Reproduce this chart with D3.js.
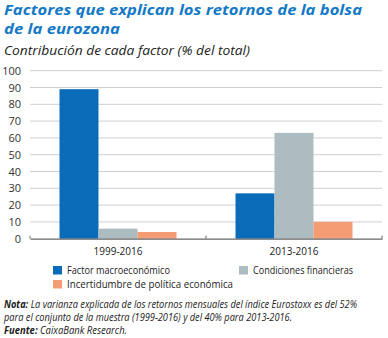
<!DOCTYPE html>
<html>
<head>
<meta charset="utf-8">
<script src="https://cdn.jsdelivr.net/npm/d3@7"></script>
<style>
  html, body { margin: 0; padding: 0; background: #fff; }
  svg { display: block; }
  text { font-family: "Open Sans", "Noto Sans", sans-serif; }
</style>
</head>
<body>
<svg id="chart" width="388" height="338"></svg>
<script>
// Periods on the x axis and contribution (% of total) of each factor
const periods = ["1999-2016", "2013-2016"];
const factors = ["Factor macroeconómico", "Condiciones financieras", "Incertidumbre de política económica"];
const macro = [89, 27];
const financial = [6, 63];
const uncertainty = [4, 10];
const yTicks = [0, 10, 20, 30, 40, 50, 60, 70, 80, 90, 100];

const colors = ["#0a6cb8", "#adbcc1", "#f49c74"];
const series = [macro, financial, uncertainty];

const svg = d3.select("#chart");

// Title block
const title = svg.append("g").attr("fill", "#1479c6")
  .attr("font-weight", "bold").attr("font-style", "italic").attr("font-size", 14.8)
  .attr("font-family", "'Liberation Sans', Arial, sans-serif");
title.append("text").attr("x", 4).attr("y", 15)
  .attr("textLength", 358).attr("lengthAdjust", "spacingAndGlyphs")
  .text("Factores que explican los retornos de la bolsa");
title.append("text").attr("x", 4).attr("y", 34)
  .attr("textLength", 116).attr("lengthAdjust", "spacingAndGlyphs")
  .text("de la eurozona");
svg.append("text").attr("x", 4).attr("y", 55).attr("font-size", 13)
  .attr("font-style", "italic").attr("fill", "#222")
  .attr("textLength", 246).attr("lengthAdjust", "spacingAndGlyphs")
  .text("Contribución de cada factor (% del total)");

// Plot area
const x0 = d3.scaleBand().domain(periods).range([30, 382]).paddingInner(0).paddingOuter(0);
const y = d3.scaleLinear().domain([0, 100]).range([238.7, 70.7]);
const groupInset = 29.5;
const x1 = d3.scaleBand().domain(d3.range(factors.length))
  .range([groupInset, x0.bandwidth() - groupInset]).padding(0);

// Gridlines and y tick labels
svg.append("g").selectAll("line").data(yTicks.filter(d => d > 0)).join("line")
  .attr("x1", 30).attr("x2", 382)
  .attr("y1", d => y(d)).attr("y2", d => y(d))
  .attr("stroke", "#cfcfcf").attr("stroke-width", 1);

const yAxis = svg.append("g").attr("transform", "translate(30,0)")
  .call(d3.axisLeft(y).tickValues(yTicks).tickSize(0).tickPadding(9));
yAxis.select(".domain").remove();
yAxis.selectAll("text").attr("font-size", 11).attr("fill", "#333")
  .attr("font-family", "'Open Sans', sans-serif");

// Bars
const groups = svg.append("g").selectAll("g").data(periods).join("g")
  .attr("transform", p => `translate(${x0(p)},0)`);
groups.selectAll("rect")
  .data((p, i) => series.map((s, k) => ({ k, v: s[i] })))
  .join("rect")
  .attr("x", d => x1(d.k))
  .attr("width", x1.bandwidth())
  .attr("y", d => y(d.v))
  .attr("height", d => y(0) - y(d.v))
  .attr("fill", d => colors[d.k]);

// x axis baseline with category ticks
const xAxis = svg.append("g").attr("transform", `translate(0,${y(0)})`)
  .call(d3.axisBottom(x0).tickSize(0).tickPadding(9));
xAxis.select(".domain").attr("stroke", "#666").attr("stroke-width", 1.2);
xAxis.selectAll("text").attr("font-size", 11).attr("fill", "#222")
  .attr("font-family", "'Open Sans', sans-serif")
  .attr("textLength", 49).attr("lengthAdjust", "spacingAndGlyphs");
svg.append("g").selectAll("line")
  .data([x0.range()[0], x0(periods[1]), x0.range()[1]]).join("line")
  .attr("x1", d => d).attr("x2", d => d)
  .attr("y1", y(0) - 3).attr("y2", y(0))
  .attr("stroke", "#666").attr("stroke-width", 1);

// Legend
const legendPos = [[53, 266], [239, 266], [53, 280]];
const legendLen = [103, 100, 166];
const legend = svg.append("g").selectAll("g").data(factors).join("g")
  .attr("transform", (d, i) => `translate(${legendPos[i][0]},${legendPos[i][1]})`);
legend.append("rect").attr("width", 9).attr("height", 8.5)
  .attr("fill", (d, i) => colors[i]);
legend.append("text").attr("x", 14).attr("y", 8).attr("font-size", 10.5)
  .attr("fill", "#222")
  .attr("textLength", (d, i) => legendLen[i]).attr("lengthAdjust", "spacingAndGlyphs")
  .text(d => d);

// Notes
const note = svg.append("g").attr("font-size", 10).attr("font-style", "italic").attr("fill", "#222");
const l1 = note.append("text").attr("x", 4).attr("y", 307.5)
  .attr("textLength", 353).attr("lengthAdjust", "spacingAndGlyphs");
l1.append("tspan").attr("font-weight", "bold").text("Nota: ");
l1.append("tspan").text(" La varianza explicada de los retornos mensuales del índice Eurostoxx es del 52%");
note.append("text").attr("x", 4).attr("y", 321)
  .attr("textLength", 288).attr("lengthAdjust", "spacingAndGlyphs")
  .text("para el conjunto de la muestra (1999-2016) y del 40% para 2013-2016.");
const l3 = note.append("text").attr("x", 4).attr("y", 334)
  .attr("textLength", 123).attr("lengthAdjust", "spacingAndGlyphs");
l3.append("tspan").attr("font-weight", "bold").text("Fuente:");
l3.append("tspan").text(" CaixaBank Research.");
</script>
</body>
</html>
